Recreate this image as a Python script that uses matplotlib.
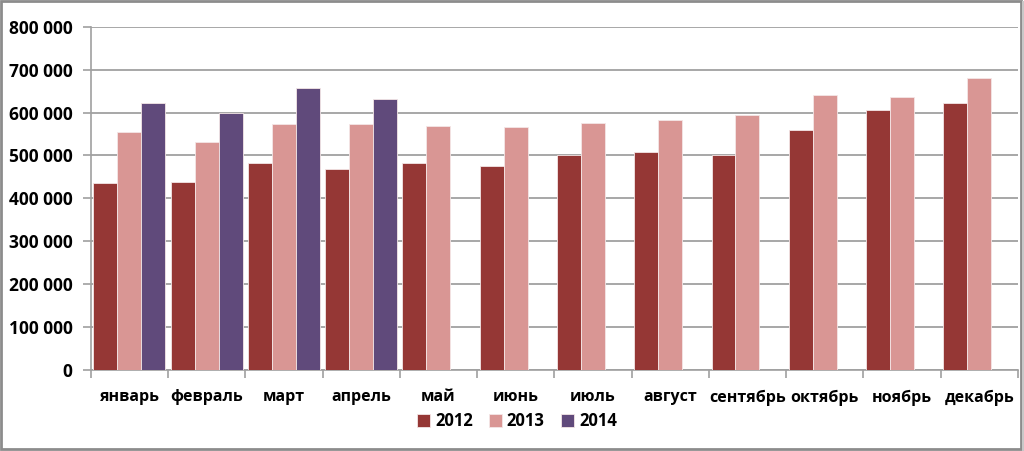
import matplotlib
matplotlib.use('Agg')
import matplotlib.pyplot as plt
import numpy as np
from matplotlib.patches import Rectangle
from matplotlib.ticker import FuncFormatter, FixedLocator

months = ['январь', 'февраль', 'март', 'апрель', 'май', 'июнь',
          'июль', 'август', 'сентябрь', 'октябрь', 'ноябрь', 'декабрь']
y2012 = [435000, 439000, 483000, 468000, 482000, 476000,
         500000, 507000, 500000, 560000, 606000, 622000]
y2013 = [555000, 531000, 573000, 573000, 569000, 566000,
         575000, 583000, 595000, 641000, 637000, 681000]
y2014 = [623000, 600000, 657000, 631000]
series = [('2012', y2012, '#953735'), ('2013', y2013, '#D99694'), ('2014', y2014, '#604A7B')]

plt.rcParams['font.family'] = ['Open Sans', 'DejaVu Sans']
plt.rcParams['font.weight'] = 'bold'

fig = plt.figure(figsize=(10.24, 4.51), dpi=100)
ax = fig.add_axes([0.0886, 0.1796, 0.9054, 0.7612])

x = np.arange(len(months))
w = 0.31
for i, (name, vals, col) in enumerate(series):
    ax.bar(x[:len(vals)] + (i - 1) * w, vals, width=w, color=col,
           edgecolor='#f4e6e6', linewidth=0.6, label=name, zorder=3)

ax.set_xlim(-0.5, len(months) - 0.5)
ax.set_ylim(0, 800000)
ax.set_yticks(np.arange(0, 800001, 100000))
ax.yaxis.set_major_formatter(FuncFormatter(lambda v, p: f'{int(v):,}'.replace(',', ' ')))
ax.grid(axis='y', color='#a0a0a0', linewidth=1.3, zorder=0)

ax.set_xticks(x)
ax.set_xticklabels(months)
ax.xaxis.set_minor_locator(FixedLocator(np.arange(-0.5, len(months), 1)))
ax.tick_params(axis='x', which='major', length=0, pad=14, labelsize=11.5)
ax.tick_params(axis='x', which='minor', length=6, color='#a0a0a0', width=1.2)
ax.tick_params(axis='y', length=6, color='#a0a0a0', width=1.2, labelsize=12.5, pad=7)
for lab in ax.get_xticklabels() + ax.get_yticklabels():
    lab.set_fontweight('bold')

for s in ['top', 'right']:
    ax.spines[s].set_visible(False)
for s in ['left', 'bottom']:
    ax.spines[s].set_color('#a0a0a0')
    ax.spines[s].set_linewidth(1.2)

leg = fig.legend(loc='center', bbox_to_anchor=(0.505, 0.066), ncol=3, frameon=False,
                 handlelength=0.75, handleheight=0.75, handletextpad=0.3, columnspacing=1.0,
                 prop={'size': 12, 'weight': 'bold'})

# outer frame with shadow
fig.patches.append(Rectangle((0.001, 0.004), 0.996, 0.993, transform=fig.transFigure,
                             fill=False, edgecolor='#8c8c8c', linewidth=2))
fig.patches.append(Rectangle((0.998, 0.0), 0.002, 0.997, transform=fig.transFigure,
                             color='#c8c8c8', linewidth=0))

fig.savefig('out.png', dpi=100)
